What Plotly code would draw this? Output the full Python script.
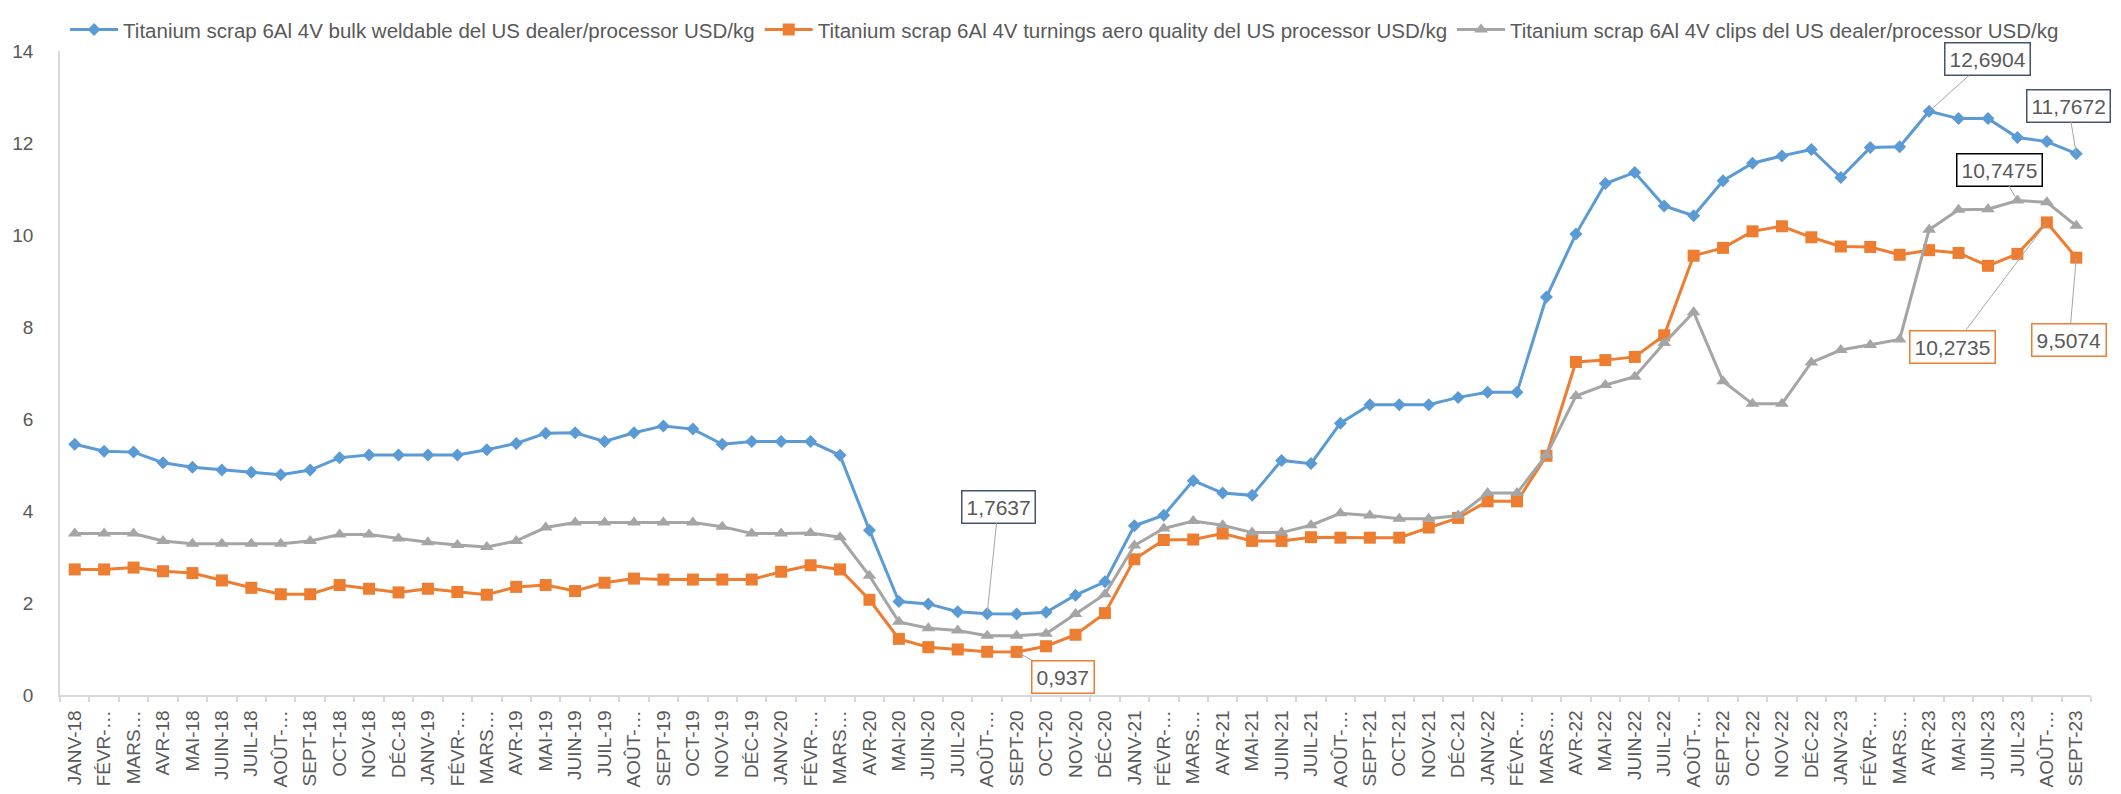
import plotly.graph_objects as go

months = ["JANV-", "FÉVR-…", "MARS…", "AVR-", "MAI-", "JUIN-", "JUIL-", "AOÛT-…", "SEPT-", "OCT-", "NOV-", "DÉC-"]
years = ["18", "19", "20", "21", "22", "23"]
tick_labels = []
for y in years:
    for m in months:
        if m.endswith("…"):
            tick_labels.append(m)
        else:
            tick_labels.append(m + y)
tick_labels = tick_labels[:69]

bulk = [5.45, 5.30, 5.28, 5.05, 4.95, 4.89, 4.84, 4.79, 4.89, 5.16, 5.22, 5.22,
        5.22, 5.22, 5.33, 5.47, 5.69, 5.70, 5.51, 5.70, 5.85, 5.78, 5.45, 5.51,
        5.51, 5.51, 5.21, 3.58, 2.03, 1.98, 1.81, 1.7637, 1.76, 1.80, 2.17, 2.46,
        3.68, 3.91, 4.66, 4.39, 4.34, 5.10, 5.03, 5.91, 6.31, 6.31, 6.31, 6.47,
        6.58, 6.58, 8.65, 10.02, 11.12, 11.36, 10.63, 10.42, 11.18, 11.56, 11.72, 11.86,
        11.25, 11.90, 11.92, 12.6904, 12.53, 12.53, 12.12, 12.03, 11.7672]

turnings = [2.73, 2.73, 2.77, 2.69, 2.65, 2.49, 2.33, 2.19, 2.19, 2.39, 2.31, 2.23,
            2.31, 2.24, 2.18, 2.35, 2.39, 2.26, 2.44, 2.53, 2.51, 2.51, 2.51, 2.51,
            2.68, 2.82, 2.73, 2.07, 1.22, 1.04, 0.99, 0.94, 0.937, 1.06, 1.31, 1.78,
            2.95, 3.37, 3.38, 3.51, 3.35, 3.35, 3.43, 3.42, 3.42, 3.42, 3.64, 3.85,
            4.21, 4.21, 5.20, 7.24, 7.28, 7.35, 7.82, 9.55, 9.72, 10.08, 10.19, 9.95,
            9.75, 9.74, 9.57, 9.67, 9.61, 9.33, 9.59, 10.2735, 9.5074]

clips = [3.51, 3.51, 3.51, 3.35, 3.29, 3.29, 3.29, 3.29, 3.35, 3.49, 3.49, 3.40,
         3.32, 3.26, 3.22, 3.35, 3.64, 3.75, 3.75, 3.75, 3.75, 3.75, 3.66, 3.51,
         3.51, 3.52, 3.43, 2.59, 1.59, 1.45, 1.40, 1.29, 1.29, 1.33, 1.76, 2.19,
         3.25, 3.62, 3.78, 3.69, 3.53, 3.53, 3.69, 3.95, 3.90, 3.83, 3.83, 3.90,
         4.39, 4.39, 5.22, 6.50, 6.74, 6.92, 7.65, 8.32, 6.82, 6.33, 6.33, 7.23,
         7.50, 7.61, 7.73, 10.115, 10.55, 10.56, 10.7475, 10.71, 10.20]

names = ["Titanium scrap 6Al 4V bulk weldable del US dealer/processor USD/kg",
         "Titanium scrap 6Al 4V turnings aero quality del US processor USD/kg",
         "Titanium scrap 6Al 4V clips del US dealer/processor USD/kg"]
colors = ["#5B9BD5", "#ED7D31", "#A5A5A5"]
symbols = ["diamond", "square", "triangle-up"]
sizes = [10, 12, 12]
series = [bulk, turnings, clips]

# labelled points: series index, point index, label offset (px), border colour
label_series = [0, 1, 0, 0, 2, 1, 1]
label_index = [31, 32, 63, 68, 66, 67, 68]
label_ax = [11, 46, 58, -8, -18, -94, -7]
label_ay = [-107, 25, -52, -48, -31, 125, 82]
label_border = ["#44546A", "#ED7D31", "#44546A", "#44546A", "#000000", "#ED7D31", "#ED7D31"]

x = list(range(len(tick_labels)))
font_family = "Liberation Sans, Arial, sans-serif"
text_color = "#595959"

fig = go.Figure()
for s, n, c, sy, sz in zip(series, names, colors, symbols, sizes):
    fig.add_trace(go.Scatter(
        x=x, y=s, name=n, mode="lines+markers",
        line=dict(color=c, width=3),
        marker=dict(symbol=sy, size=sz, color=c, line=dict(width=0)),
    ))

for si, pi, ax, ay, bc in zip(label_series, label_index, label_ax, label_ay, label_border):
    v = series[si][pi]
    fig.add_annotation(
        x=pi, y=v, text=str(v).replace(".", ","),
        showarrow=True, arrowhead=0, arrowwidth=1, arrowcolor="#A6A6A6",
        ax=ax, ay=ay, standoff=0,
        bordercolor=bc, borderwidth=1.5, borderpad=4, bgcolor="white",
        font=dict(family=font_family, size=21, color=text_color),
    )

fig.update_layout(
    width=2121, height=794,
    paper_bgcolor="white", plot_bgcolor="white",
    margin=dict(l=52, r=38, t=43, b=107, autoexpand=False),
    font=dict(family=font_family, color=text_color),
    showlegend=True,
    legend=dict(orientation="h", x=0.0025, xanchor="left", y=1.064, yanchor="top",
                font=dict(size=20.5, color=text_color), bgcolor="rgba(0,0,0,0)",
                itemwidth=48),
)
fig.update_xaxes(
    range=[-0.5, len(tick_labels) - 0.5],
    tickmode="array", tickvals=x, ticktext=tick_labels, tickangle=-90,
    tickfont=dict(size=19, color=text_color), ticklabelstandoff=6,
    showline=True, linecolor="#D9D9D9", linewidth=1.5,
    showgrid=False, zeroline=False, ticks="", automargin=False,
    minor=dict(tickvals=[i - 0.5 for i in range(len(tick_labels) + 1)],
               ticks="outside", ticklen=5, tickcolor="#D9D9D9", tickwidth=1.5, showgrid=False),
)
fig.update_yaxes(
    range=[0, 14], dtick=2, tick0=0,
    tickfont=dict(size=19, color=text_color), ticklabelstandoff=21,
    showline=True, linecolor="#D9D9D9", linewidth=1.5,
    showgrid=False, zeroline=False, ticks="", automargin=False,
)

fig.write_html("out.html")
